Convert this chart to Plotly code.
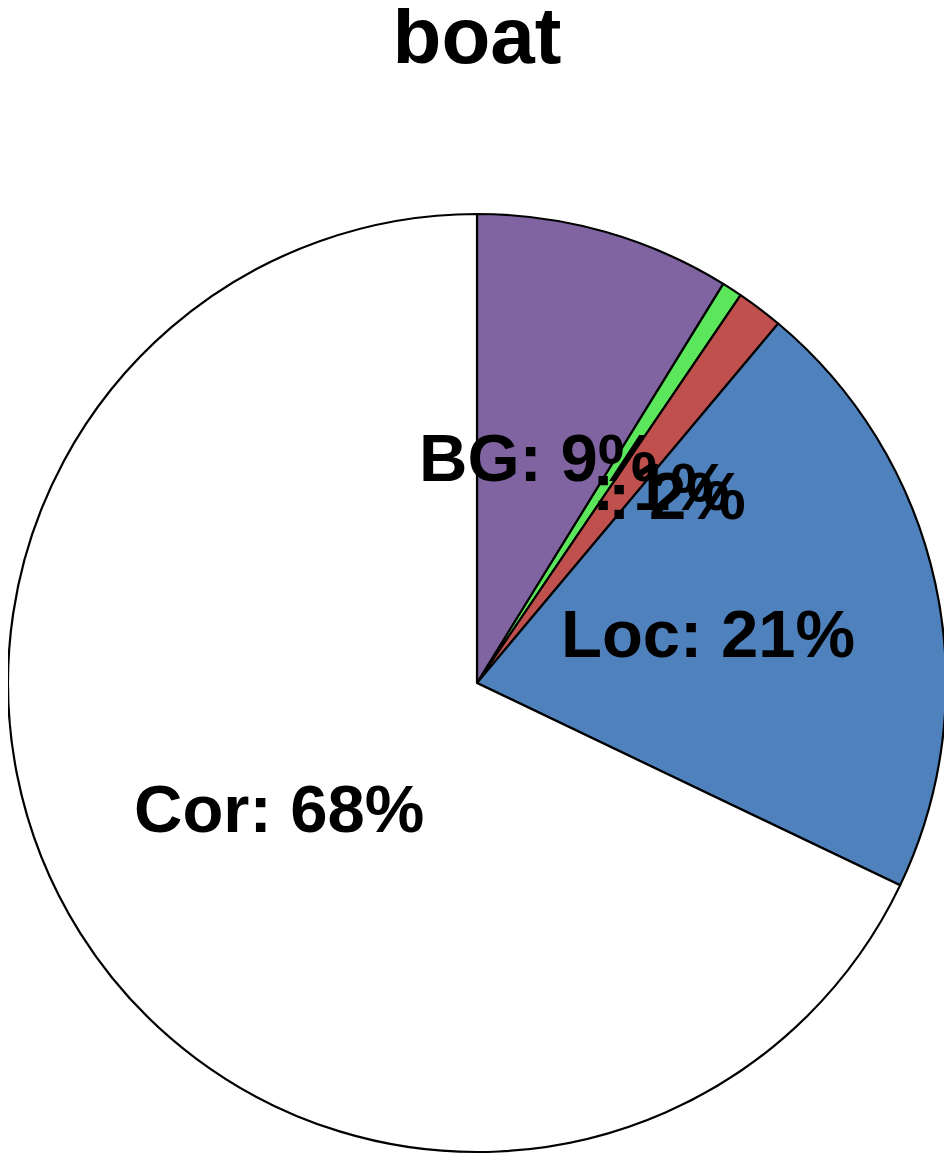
import numpy as np
import plotly.graph_objects as go

# slice data, clockwise from 12 o'clock
labels = ["BG", "", "", "Loc", "Cor"]
values = [8.8, 0.7, 1.6, 21.0, 67.9]
colors = ["#8064A2", "#5CE65C", "#C0504D", "#4F81BD", "#FFFFFF"]
anchors = ["center", "left", "left", "center", "center"]
xshifts = [-3, -15, -12, 2, 0]

# the page body has an 8px margin, so the figure is a bit smaller than the window
W, H = 944, 1153
x0, x1 = 0, 938 / W
y0, y1 = 1 - 1145 / H, 1 - 205 / H

fig = go.Figure()
fig.add_trace(go.Pie(
    labels=[l if l else f"s{i}" for i, l in enumerate(labels)],
    values=values,
    sort=False,
    direction="clockwise",
    rotation=0,
    textinfo="none",
    hoverinfo="skip",
    showlegend=False,
    marker=dict(colors=colors, line=dict(color="black", width=2.2)),
    domain=dict(x=[x0, x1], y=[y0, y1]),
))

# labels at half radius on each slice's mid angle
radius = min((x1 - x0) * W, (y1 - y0) * H) / 2
cx, cy = (x0 + x1) / 2, (y0 + y1) / 2
total = sum(values)
cum = np.cumsum([0] + values[:-1])
annotations = []
for lab, v, c, anc, xs in zip(labels, values, cum, anchors, xshifts):
    ang = 2 * np.pi * (c + v / 2) / total
    x = cx + 0.5 * radius * np.sin(ang) / W
    y = cy + 0.5 * radius * np.cos(ang) / H
    annotations.append(dict(
        x=x, y=y, xref="paper", yref="paper", showarrow=False,
        xanchor=anc, yanchor="middle", xshift=xs,
        text=f"{lab}: {round(v / total * 100)}%",
        font=dict(size=67, color="black", family="Liberation Sans"),
    ))

fig.update_layout(
    width=W, height=H,
    margin=dict(l=0, r=0, t=0, b=0),
    paper_bgcolor="white", plot_bgcolor="white",
    font_family="Liberation Sans",
    title=dict(text="<b>boat</b>", x=469 / W, xanchor="center", y=1 - 27 / H,
               yanchor="middle", yref="container",
               font=dict(size=80, color="black", family="Liberation Sans")),
    annotations=annotations,
)
fig.update_annotations(font_weight="bold")

fig.write_html("out.html")
